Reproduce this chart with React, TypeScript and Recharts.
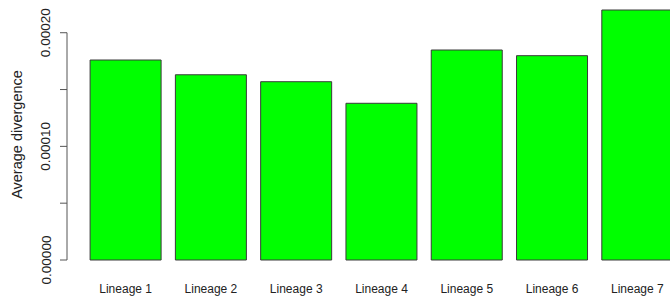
import React from 'react';
import { BarChart, Bar, XAxis, YAxis, ReferenceLine } from 'recharts';

const categories = ['Lineage 1', 'Lineage 2', 'Lineage 3', 'Lineage 4', 'Lineage 5', 'Lineage 6', 'Lineage 7'];
const divergence = [0.000176, 0.000163, 0.0001569, 0.0001379, 0.0001848, 0.0001798, 0.00022];
const yTicks = [0, 0.00005, 0.0001, 0.00015, 0.0002];
const yLabelTicks = [0, 0.0001, 0.0002];
const yTitle = 'Average divergence';

const data = categories.map((name, i) => ({ name, value: divergence[i] }));

const FONT = '"Liberation Sans", Arial, Helvetica, sans-serif';
const AXIS = '#555';
const TEXT = '#222';

const YTick = (props: any) => {
  const { y, payload } = props;
  const v = payload.value as number;
  const show = yLabelTicks.some((t) => Math.abs(t - v) < 1e-12);
  if (!show) return <g />;
  return (
    <text
      x={46}
      y={y}
      transform={`rotate(-90, 46, ${y})`}
      textAnchor="middle"
      dominantBaseline="central"
      fontFamily={FONT}
      fontSize={13.5}
      fill={TEXT}
    >
      {v.toFixed(5)}
    </text>
  );
};

const XTick = (props: any) => {
  const { x, payload } = props;
  return (
    <text x={x} y={293} textAnchor="middle" fontFamily={FONT} fontSize={12} fill={TEXT}>
      {payload.value}
    </text>
  );
};

const AxisSegment = (props: any) => {
  const { y1, y2 } = props;
  return <line x1={67} x2={67} y1={y1} y2={y2} stroke={AXIS} strokeWidth={1} />;
};

export default function App() {
  return (
    <div style={{ position: 'absolute', left: 0, top: 0, width: 670, height: 302, overflow: 'hidden', background: '#fff' }}>
      <BarChart
        width={680}
        height={302}
        data={data}
        margin={{ top: 10, right: 0, bottom: 0, left: 0 }}
        barCategoryGap={7.1}
      >
        <XAxis
          dataKey="name"
          axisLine={false}
          tickLine={false}
          height={42}
          padding={{ left: 16, right: 0 }}
          tick={<XTick />}
          interval={0}
        />
        <YAxis
          width={67}
          domain={[0, 0.00022]}
          ticks={yTicks}
          axisLine={false}
          tickLine={{ stroke: AXIS }}
          tickSize={7}
          tick={<YTick />}
          interval={0}
          label={{
            content: () => (
              <text
                x={17}
                y={134.5}
                transform="rotate(-90, 17, 134.5)"
                textAnchor="middle"
                dominantBaseline="central"
                fontFamily={FONT}
                fontSize={14.5}
                fill={TEXT}
              >
                {yTitle}
              </text>
            ),
          }}
        />
        <ReferenceLine
          segment={[
            { x: categories[0], y: 0 },
            { x: categories[0], y: 0.0002 },
          ]}
          shape={<AxisSegment />}
          ifOverflow="visible"
        />
        <Bar dataKey="value" fill="#00FF00" stroke="#3a3a3a" strokeWidth={1} isAnimationActive={false} />
      </BarChart>
    </div>
  );
}
